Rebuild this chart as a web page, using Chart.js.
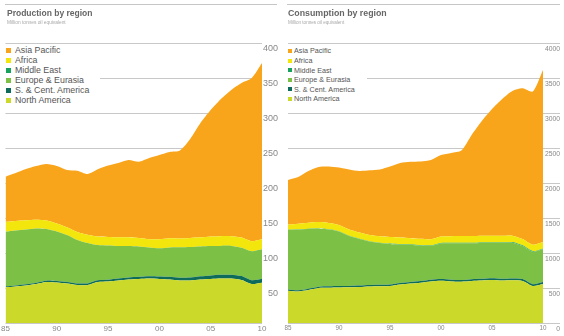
<!DOCTYPE html>
<html>
<head>
<meta charset="utf-8">
<script src="https://cdn.jsdelivr.net/npm/chart.js@4"></script>
<style>
  html, body { margin: 0; padding: 0; background: #fff; }
  body { width: 564px; height: 336px; position: relative; overflow: hidden;
         font-family: "Liberation Sans", Arial, Helvetica, sans-serif; }
  .panel { position: absolute; top: 0; height: 336px; overflow: hidden; }
  #panelProd { left: 0; width: 278px; }
  #panelCons { left: 280px; width: 284px; }
  .panel canvas { position: absolute; left: 0; top: 0; }
  .rule { position: absolute; top: 4px; height: 0; border-top: 1px solid #c6c6c6; }
  .title { position: absolute; font-weight: bold; color: #666; white-space: nowrap; }
  .sub { position: absolute; color: #a8a8a8; white-space: nowrap; }
  .legend { position: absolute; background: #fff; }
  .legend .sw { position: absolute; }
  .legend .txt { position: absolute; white-space: nowrap; color: #555; }
</style>
</head>
<body>
<div class="panel" id="panelProd">
  <canvas id="prodChart" width="283" height="336"></canvas>
  <div class="rule" style="left:5px;width:272px"></div>
  <div class="title" style="left:7px;top:8px;font-size:8.5px;line-height:10px">Production by region</div>
  <div class="sub" style="left:7px;top:20px;font-size:4.8px;line-height:6px">Million tonnes oil equivalent</div>
  <div class="legend" id="prodLegend" style="left:0;top:44px;width:100px;height:62px"></div>
</div>
<div class="panel" id="panelCons">
  <canvas id="consChart" width="280" height="336"></canvas>
  <div class="rule" style="left:7px;width:273px"></div>
  <div class="title" style="left:8px;top:8px;font-size:8.8px;line-height:10px">Consumption by region</div>
  <div class="sub" style="left:8px;top:20px;font-size:4.6px;line-height:6px">Million tonnes oil equivalent</div>
  <div class="legend" id="consLegend" style="left:0;top:45px;width:87px;height:60px"></div>
</div>
<script>
// Years on the horizontal axis
const years = [1985, 1986, 1987, 1988, 1989, 1990, 1991, 1992, 1993, 1994, 1995, 1996, 1997,
               1998, 1999, 2000, 2001, 2002, 2003, 2004, 2005, 2006, 2007, 2008, 2009, 2010];

// Regions, stacked from the bottom up
const regionNames = ['North America', 'S. & Cent. America', 'Europe & Eurasia', 'Middle East', 'Africa', 'Asia Pacific'];
const regionColors = ['#cbd92b', '#0d6b5b', '#7dc046', '#17a35e', '#f3e60c', '#f9a51b'];

// Coal production, million tonnes oil equivalent
const prodNorthAmerica = [510, 521, 536, 557, 586, 579, 564, 543, 543, 586, 593, 607, 621, 629, 636, 629, 621, 607, 607, 621, 629, 636, 636, 614, 557, 576];
const prodSouthCentAmerica = [15, 16, 17, 18, 19, 20, 21, 22, 23, 24, 25, 27, 29, 31, 33, 36, 38, 40, 43, 46, 50, 52, 54, 56, 54, 56];
const prodEuropeEurasia = [779, 784, 783, 775, 738, 708, 672, 621, 577, 504, 489, 466, 450, 433, 410, 402, 420, 434, 436, 426, 421, 412, 410, 405, 415, 421];
const prodMiddleEast = [1, 1, 1, 1, 1, 1, 1, 1, 1, 1, 1, 1, 1, 1, 1, 1, 1, 1, 1, 1, 1, 1, 1, 1, 1, 1];
const prodAfrica = [140, 136, 130, 125, 122, 115, 110, 112, 115, 120, 122, 125, 125, 120, 118, 130, 130, 125, 128, 130, 135, 140, 140, 145, 142, 142];
const prodAsiaPacific = [645, 685, 733, 767, 805, 820, 818, 877, 870, 961, 1020, 1060, 1103, 1090, 1159, 1202, 1233, 1257, 1414, 1633, 1807, 1959, 2088, 2208, 2331, 2518];

// Coal consumption, million tonnes oil equivalent
const consNorthAmerica = [461, 450, 471, 500, 504, 507, 510, 514, 521, 524, 529, 550, 564, 576, 593, 604, 593, 590, 600, 607, 614, 607, 610, 600, 529, 557];
const consSouthCentAmerica = [18, 18, 19, 19, 20, 20, 20, 20, 21, 21, 22, 22, 23, 23, 24, 24, 24, 24, 25, 25, 26, 26, 27, 28, 26, 28];
const consEuropeEurasia = [850, 868, 853, 831, 812, 780, 713, 666, 622, 598, 578, 549, 527, 508, 483, 508, 522, 525, 514, 511, 503, 510, 510, 472, 464, 468];
const consMiddleEast = [3, 3, 4, 4, 4, 4, 4, 5, 5, 5, 5, 6, 6, 6, 7, 7, 7, 8, 8, 8, 8, 8, 9, 9, 9, 9];
const consAfrica = [75, 80, 85, 88, 90, 90, 90, 88, 88, 92, 95, 95, 92, 90, 88, 92, 95, 95, 95, 95, 95, 95, 92, 90, 90, 95];
const consAsiaPacific = [636, 667, 739, 787, 806, 820, 856, 878, 924, 953, 1007, 1064, 1091, 1104, 1134, 1165, 1188, 1222, 1444, 1640, 1811, 1954, 2066, 2154, 2189, 2457];

// Value axis ticks
const yMin = 0;
const yMax = 4000;
const yStep = 500;

// Horizontal rules at each value tick; endX null stops them at the plot edge
function ruleGrid(endX) {
  return {
    id: 'ruleGrid',
    beforeDatasetsDraw(chart) {
      const { ctx, chartArea, scales } = chart;
      const right = endX == null ? chartArea.right : endX;
      ctx.save();
      ctx.strokeStyle = '#c8c8c8';
      ctx.lineWidth = 1;
      scales.y.ticks.forEach(t => {
        const y = Math.round(scales.y.getPixelForValue(t.value)) + 0.5;
        ctx.beginPath();
        ctx.moveTo(chartArea.left, y);
        ctx.lineTo(right, y);
        ctx.stroke();
      });
      ctx.restore();
    }
  };
}

function buildChart(canvasId, series, cfg) {
  const datasets = series.map((values, i) => ({
    label: regionNames[i],
    data: values,
    backgroundColor: regionColors[i],
    borderWidth: 0,
    pointRadius: 0,
    tension: 0.25,
    fill: i === 0 ? 'origin' : '-1'
  }));
  return new Chart(document.getElementById(canvasId), {
    type: 'line',
    data: { labels: years, datasets },
    plugins: [ruleGrid(cfg.gridEnd)],
    options: {
      responsive: false,
      animation: false,
      events: [],
      layout: { padding: { top: 43, left: cfg.padLeft, right: 0, bottom: 0 } },
      plugins: {
        legend: { display: false },
        tooltip: { enabled: false }
      },
      scales: {
        x: {
          type: 'category',
          offset: false,
          grid: { display: false, drawTicks: false },
          border: { display: false },
          ticks: {
            autoSkip: false,
            maxRotation: 0,
            padding: 1,
            color: '#888',
            font: { family: 'Liberation Sans', size: cfg.xFont },
            callback: (v, i) => (years[i] % 5 === 0 ? String(years[i]).slice(2) : null)
          },
          afterFit: s => { s.height = 13; }
        },
        y: {
          position: 'right',
          stacked: true,
          min: yMin,
          max: yMax,
          grid: { display: false, drawTicks: false },
          border: { display: false },
          ticks: {
            stepSize: yStep,
            crossAlign: 'far',
            padding: 2,
            labelOffset: 6,
            color: '#888',
            font: { family: 'Liberation Sans', size: cfg.yFont },
            callback: v => String(v)
          },
          afterFit: s => { s.width = cfg.axisWidth; }
        }
      }
    }
  });
}

function buildLegend(elId, cfg) {
  const box = document.getElementById(elId);
  const order = regionNames.map((n, i) => i).reverse();
  order.forEach((idx, row) => {
    const cy = cfg.firstY + row * cfg.step;
    const sw = document.createElement('div');
    sw.className = 'sw';
    sw.style.left = cfg.swLeft + 'px';
    sw.style.top = (cy - cfg.swSize / 2) + 'px';
    sw.style.width = cfg.swSize + 'px';
    sw.style.height = cfg.swSize + 'px';
    sw.style.background = regionColors[idx];
    box.appendChild(sw);
    const tx = document.createElement('div');
    tx.className = 'txt';
    tx.textContent = regionNames[idx];
    tx.style.left = cfg.textLeft + 'px';
    tx.style.fontSize = cfg.font + 'px';
    tx.style.lineHeight = (cfg.font + 2) + 'px';
    tx.style.top = (cy - (cfg.font + 2) / 2) + 'px';
    box.appendChild(tx);
  });
}

// The production canvas runs past its panel so the value labels are cut at the edge
buildChart('prodChart',
  [prodNorthAmerica, prodSouthCentAmerica, prodEuropeEurasia, prodMiddleEast, prodAfrica, prodAsiaPacific],
  { padLeft: 5, axisWidth: 21, gridEnd: null, yFont: 9, xFont: 8 });

buildChart('consChart',
  [consNorthAmerica, consSouthCentAmerica, consEuropeEurasia, consMiddleEast, consAfrica, consAsiaPacific],
  { padLeft: 8, axisWidth: 17, gridEnd: 280, yFont: 6.8, xFont: 6.3 });

// legend rows, offsets are relative to the legend box
buildLegend('prodLegend', { firstY: 6, step: 10, swLeft: 6, swSize: 5, textLeft: 15, font: 8.8 });
buildLegend('consLegend', { firstY: 6, step: 9.6, swLeft: 8, swSize: 4, textLeft: 14, font: 7.2 });
</script>
</body>
</html>
